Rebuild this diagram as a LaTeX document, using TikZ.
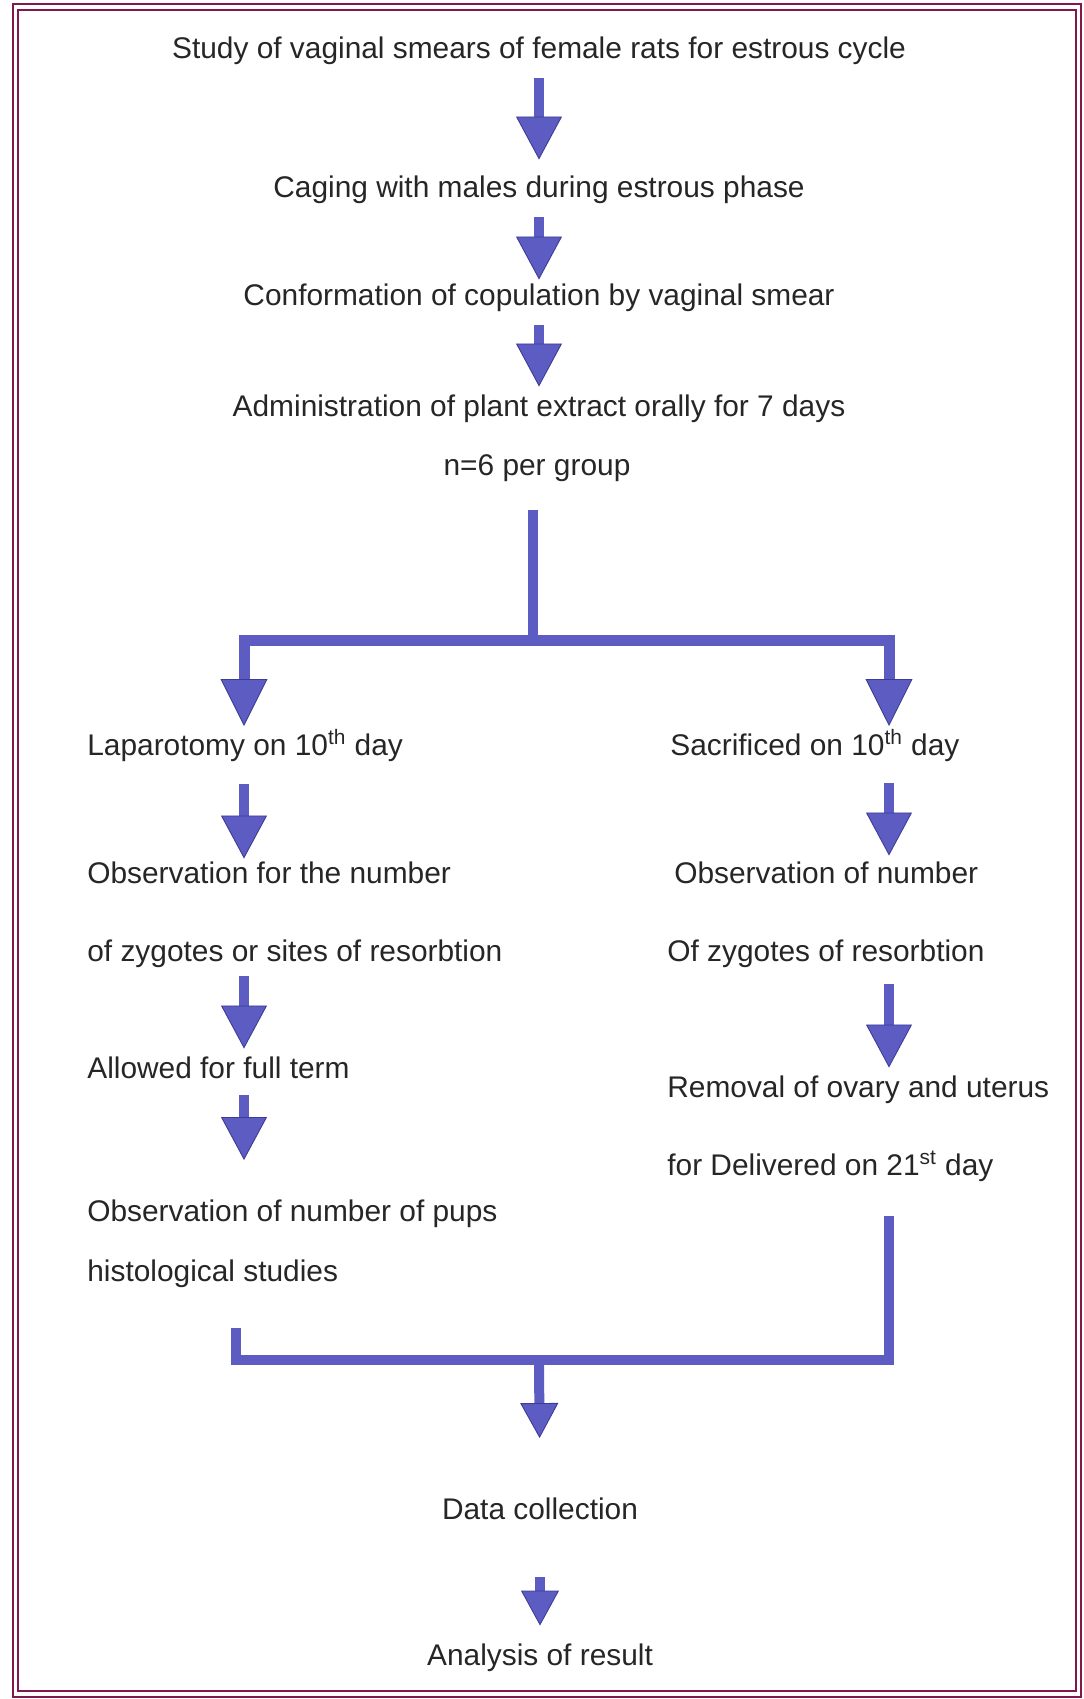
\documentclass[tikz,border=0pt]{standalone}
\usepackage{fontspec}
\setmainfont{Liberation Sans}
\usetikzlibrary{arrows.meta}
\definecolor{arrowblue}{RGB}{92,92,194}
\definecolor{arrowedge}{RGB}{60,60,150}
\definecolor{framered}{RGB}{130,22,78}

\tikzset{
	stage/.style={font=\fontsize{17}{20}\selectfont, text=black!85, inner sep=0pt, text height=12pt, text depth=3.5pt},
	pipe/.style={arrowblue, line width=0.2cm},
	blk/.style={pipe, -{Triangle[width=0.92cm, length=0.86cm, fill=arrowblue, color=arrowedge, line width=0.5pt]}},
	dropblk/.style={pipe, line width=0.22cm, line join=miter, -{Triangle[width=0.94cm, length=0.94cm, fill=arrowblue, color=arrowedge, line width=0.5pt]}},
	smallblk/.style={pipe, -{Triangle[width=0.76cm, length=0.7cm, fill=arrowblue, color=arrowedge, line width=0.5pt]}}
}

\begin{document}
\begin{tikzpicture}[x=0.02cm, y=-0.02cm]
			%%%%% FRAME %%%%%
			\useasboundingbox (0,0) rectangle (1083,1699);
			\draw[framered, line width=1.3pt] (13,4) rectangle (1081,1697);
			\draw[framered, line width=1.3pt] (18,10) rectangle (1076,1691);
			
			%%%%% CENTRE %%%%%
			\node[stage] (smear) at (539,51) {Study of vaginal smears of female rats for estrous cycle};
			\node[stage] (caging) at (539,190) {Caging with males during estrous phase};
			\node[stage] (copul) at (539,298) {Conformation of copulation by vaginal smear};
			\node[stage] (admin) at (539,409) {Administration of plant extract orally for 7 days};
			\node[stage] (group) at (537,468) {n=6 per group};
			
			\draw[blk, shorten <=0.27cm, shorten >=0.33cm] (smear) -- (caging);
			\draw[blk, shorten <=0.27cm, shorten >=0.09cm] (caging) -- (copul);
			\draw[blk, shorten <=0.27cm, shorten >=0.17cm] (copul) -- (admin);
			
			%%%%% SPLIT %%%%%
			\coordinate (colL) at (244,0);
			\coordinate (colR) at (889,0);
			\coordinate (split) at (533,640);
			\coordinate (lapTip) at (244,726);
			\coordinate (sacTip) at (889,726);
			\draw[pipe, shorten <=0.57cm] (group.south -| split) -- (split);
			\draw[dropblk] (split) -| (lapTip);
			\draw[dropblk] (split) -| (sacTip);
			
			%%%%% LEFT %%%%%
			\node[stage, anchor=west] (lapar) at (87,748) {Laparotomy on 10\textsuperscript{th} day};
			\node[stage, anchor=west] (obsL1) at (87,876) {Observation for the number};
			\node[stage, anchor=west] (obsL2) at (87,954) {of zygotes or sites of resorbtion};
			\node[stage, anchor=west] (term) at (87,1071) {Allowed for full term};
			\node[stage, anchor=west] (pups) at (87,1214) {Observation of number of pups};
			\node[stage, anchor=west] (histo) at (87,1274) {histological studies};
			
			\draw[blk, shorten <=0.45cm, shorten >=0.07cm] (lapar.south -| colL) -- (obsL1.north -| colL);
			\draw[blk, shorten <=0.17cm, shorten >=0.17cm] (obsL2.south -| colL) -- (term.north -| colL);
			\draw[blk, shorten <=0.21cm, shorten >=0.8cm] (term.south -| colL) -- (pups.north -| colL);
			
			%%%%% RIGHT %%%%%
			\node[stage, anchor=west] (sacr) at (670,748) {Sacrificed on 10\textsuperscript{th} day};
			\node[stage, anchor=west] (obsR1) at (674,876) {Observation of number};
			\node[stage, anchor=west] (obsR2) at (667,954) {Of zygotes of resorbtion};
			\node[stage, anchor=west] (remov) at (667,1090) {Removal of ovary and uterus};
			\node[stage, anchor=west] (deliv) at (667,1168) {for Delivered on 21\textsuperscript{st} day};
			
			\draw[blk, shorten <=0.43cm, shorten >=0.13cm] (sacr.south -| colR) -- (obsR1.north -| colR);
			\draw[blk, shorten <=0.33cm, shorten >=0.17cm] (obsR2.south -| colR) -- (remov.north -| colR);
			
			%%%%% MERGE %%%%%
			\coordinate (merge) at (539,1360);
			\coordinate (histEnd) at (236,1328);
			\coordinate (delivEnd) at (889,1216);
			\draw[pipe, line join=miter] (histEnd) |- (merge);
			\draw[pipe, line join=miter] (delivEnd) |- (merge);
			
			\node[stage] (datac) at (540,1512) {Data collection};
			\node[stage] (result) at (540,1658) {Analysis of result};
			
			\draw[smallblk, shorten >=1.2cm] (merge) -- (datac.north);
			\draw[smallblk, shorten <=1.03cm, shorten >=0.37cm] (datac) -- (result);
		\end{tikzpicture}
\end{document}
